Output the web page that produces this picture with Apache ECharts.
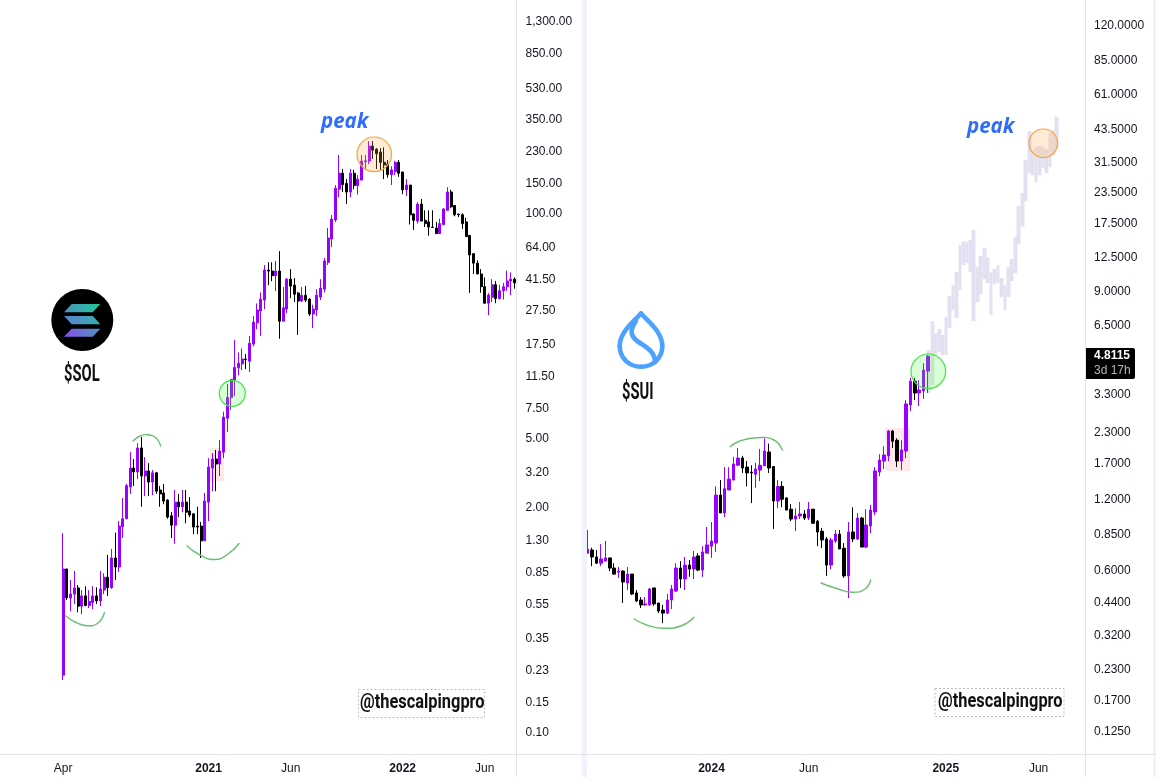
<!DOCTYPE html>
<html>
<head>
<meta charset="utf-8">
<title>SOL vs SUI</title>
<style>
  html, body { margin: 0; background: #fff; }
  #chart-1 { width: 1156px; height: 777px; }
</style>
<script src="https://cdn.jsdelivr.net/npm/echarts@6/dist/echarts.min.js"></script>
</head>
<body>
<div id="chart-1"></div>
<script>
// SOL weekly candles
const solOpen = [
  .216,.887,.603,.635,.689,.541,.62,.546,.567,.62,
  .58,.67,.795,.692,1.027,.911,1.56,1.73,2.64,3.4,
  3.23,4.44,3.06,3.27,2.82,3.19,2.54,2.44,2.22,1.8,
  1.59,2.16,2.03,2.16,1.92,1.85,1.57,1.57,1.29,2.16,
  3.4,3.83,3.59,4.2,6.6,8.7,10.97,12.9,13.6,14.5,
  14.1,17.7,23.5,27.5,31.8,47.4,46.8,44,46.8,24,
  28.2,42,38.8,34.9,31.4,33.9,32.2,26.4,27.9,33.1,
  36.8,52.6,71.7,92.3,139,172,150,134,172,146,
  157,201,202,247,237,228,199,194,169,176,
  199,175,138,147,100,91,114,92,90,84,
  83,77,87,105,134,112,100,99,90,75,
  59,52,45,38,30.5,33,39,32.5,36,38,
  41,42
];
const solClose = [
  .887,.605,.635,.689,.541,.62,.546,.575,.62,.58,
  .68,.795,.692,1.027,.911,1.57,1.73,2.69,3.4,3.23,
  4.44,3.06,3.27,2.82,3.19,2.5,2.41,2.19,1.77,1.59,
  2.16,2.03,2.16,1.89,1.82,1.55,1.55,1.29,2.19,3.45,
  3.83,3.59,4.26,6.7,8.7,11.07,12.98,13.7,14.5,14.4,
  17.9,23.7,27.9,32.2,47.4,46.8,44,46.8,24,28.7,
  42,38.3,34.4,31.4,33.9,31.8,26.4,28.2,33.9,37.3,
  53.5,72.6,93.5,141,172,148,134,172,146,159,
  202,203,247,234,223,199,192,169,180,199,
  172,138,147,99,92,114,91,88,84,83.5,
  77,88,107,134,110,99,99,88,74,58,
  52,45,38,30.5,34,39,32.5,36,38,41,
  42,40
];
const solLow = [
  .2025,.587,.505,.557,.498,.486,.541,.528,.52,.557,
  .541,.635,.62,.68,.766,.853,1.34,1.73,2.41,2.68,
  2.94,2.03,2.34,2.34,2.37,2.41,2.03,2.1,1.73,1.34,
  1.24,1.77,1.89,1.63,1.77,1.41,1.41,1.027,1.29,1.68,
  2.5,2.5,3.06,3.88,5.5,7.4,8.85,11.7,12.53,12.7,
  12.2,17.2,21.6,19.7,28.2,38.8,40.9,35.8,19,24,
  26.8,32.6,31,20,31,31,25.7,21.9,25.7,31.8,
  35.2,50.7,64.3,90,125,134,114,125,139,129.5,
  157,180,194,208,182,180,159,162,147,168,
  164,130,127,87,81,88,91,84,75,83,
  77,77,86,105,108,97,96,82,74,35,
  45,45,35,30.5,26,31,30.5,32,32,36,
  34,37
];
const solHigh = [
  1.43,.887,.766,.863,.716,.67,.705,.67,.705,.695,
  .863,.838,1.07,1.157,1.44,1.68,2.28,2.75,4.2,3.83,
  4.74,5.15,3.93,3.63,3.31,3.23,2.68,2.75,2.25,1.89,
  2.54,2.41,2.54,2.54,2.31,1.85,2.03,1.66,2.44,3.88,
  4.15,4.32,4.94,7.2,10.4,11.07,18.7,15.85,16.7,15.5,
  19.7,25.7,30.4,35.2,50.7,52.6,52.6,53.5,61,37.8,
  42.6,48,42.6,35.4,37.8,38.3,32.6,29.9,36.8,42,
  55.7,83,98.7,147,219,182,159,182,180,168,
  219,219,264,264,240,240,243,205,189,203,
  205,175,159,147,101,117,122,105,105,105,
  90,94,108,143,138,112,100,101,95,76,
  59,54,48,43,35,42,41,39,40,47,
  46,43
];

// SUI weekly candles
const suiOpen = [
  .71,.733,.685,.645,.658,.679,.615,.591,.597,.532,
  .58,.483,.451,.43,.43,.507,.438,.409,.397,.451,
  .492,.615,.553,.633,.609,.692,.603,.711,.761,.784,
  1.25,1.05,1.313,1.446,1.67,1.79,1.64,1.56,1.53,1.594,
  1.66,1.9,1.65,1.18,1.36,1.215,1.09,.99,1.02,1.04,
  1.0,1.09,.97,.88,.816,.633,.8,.856,.746,.57,
  .873,.816,1.0,.754,.925,1.06,1.563,1.74,1.83,2.33,
  2.13,1.74,1.917,3.0,3.78,3.37,3.44,4.17
];
const suiClose = [
  .739,.685,.645,.672,.679,.615,.58,.597,.537,.58,
  .478,.447,.43,.434,.502,.434,.405,.397,.451,.502,
  .615,.553,.633,.609,.685,.603,.719,.77,.8,1.25,
  1.05,1.33,1.46,1.69,1.79,1.625,1.55,1.55,1.61,1.67,
  1.917,1.625,1.18,1.36,1.2,1.08,.99,1.02,1.04,1.0,
  1.09,.95,.873,.808,.633,.808,.856,.74,.57,.873,
  .816,1.0,.754,.934,1.08,1.58,1.757,1.845,2.33,2.11,
  1.74,1.936,3.03,3.78,3.37,3.47,4.21,4.8115
];
const suiLow = [
  .71,.626,.64,.627,.658,.597,.575,.559,.438,.497,
  .473,.442,.417,.426,.426,.426,.397,.36,.393,.413,
  .487,.507,.497,.565,.553,.597,.565,.711,.679,.719,
  1.05,1.01,1.313,1.446,1.67,1.55,1.36,1.156,1.34,1.43,
  1.66,1.55,.9,1.1,1.11,1.08,.97,.88,.99,.98,
  .98,.95,.761,.746,.57,.609,.784,.74,.559,.459,
  .792,.808,.754,.746,.864,1.03,1.5,1.61,1.74,1.975,
  1.64,1.594,1.79,2.83,3.146,2.97,3.18,3.37
];
const suiHigh = [
  .89,.75,.733,.776,.8,.679,.645,.621,.603,.621,
  .58,.497,.464,.464,.507,.507,.438,.43,.478,.522,
  .645,.658,.685,.665,.726,.711,.761,.917,.962,1.36,
  1.446,1.64,1.64,1.81,1.975,1.83,1.74,1.67,1.71,1.955,
  2.17,2.06,1.65,1.446,1.43,1.225,1.145,1.1,1.168,1.08,
  1.168,1.09,.98,.908,.832,.824,.89,.89,.784,.962,
  1.11,1.05,1.01,1.09,1.135,1.64,1.86,2.01,2.35,2.35,
  2.17,2.13,3.146,3.9,3.9,3.82,4.5,4.87
];

// the pale projected bars on the SUI side (no visible wicks)
const ghostTop = [
  5.11,6.77,6.03,6.27,5.92,7.06,8.62,9.61,10.9,14.2,
  14.7,14.6,14.88,16.4,11.45,12.75,13.8,12.6,10.9,11.25,
  11.67,10.3,9.61,11.45,12.4,15.3,20.7,23.5,32.4,42.9,
  35.7,36.8,37.2,36.8,36,42,43.3,49.4
];
const ghostBottom = [
  3.37,3.64,4.87,5.01,4.87,4.87,6.33,7.54,7,9.16,
  11.67,11.9,10.9,6.77,8.15,8.8,10.2,9.8,7.18,9.7,
  9.8,8.56,7.54,8.56,10,10.8,14.3,17,21.7,28.5,
  27.9,26.1,27.9,30,28.5,30.3,34,36.4
];

const solTicks = [1300,850,530,350,230,150,100,64,41.5,27.5,17.5,11.5,7.5,5,3.2,2,1.3,.85,.55,.35,.23,.15,.1];
const suiTicks = [120,85,61,43.5,31.5,23.5,17.5,12.5,9,6.5,3.3,2.3,1.7,1.2,.85,.6,.44,.32,.23,.17,.125];

const solMonths = ['Apr','2021','Jun','2022','Jun'];
const solMonthBars = [16,55,77,107,129];
const suiMonths = ['2024','Jun','2025','Jun'];
const suiMonthBars = [28,50,81,102];

const PURPLE = '#9900ff', BLACK = '#000000', GHOST = '#e5e0f1', LINE = '#e0e3eb', TEXT = '#131722';
const EMPTY = ['-','-','-','-'];

function categories(n, bars, names) {
  const out = new Array(n).fill('');
  bars.forEach((b, i) => { out[b] = names[i]; });
  return out;
}
function candles(pad, o, c, l, h) {
  return new Array(pad).fill(EMPTY).concat(o.map((v, i) => [v, c[i], l[i], h[i]]));
}
function xAxis(gridIndex, data, hidden) {
  return {
    type: 'category', gridIndex, data, show: !hidden,
    axisLine: { show: false }, axisTick: { show: false }, splitLine: { show: false },
    axisLabel: {
      margin: 9, fontFamily: 'Liberation Sans', fontSize: 12, color: TEXT,
      interval: (i, v) => v !== '',
      formatter: v => /^\d/.test(v) ? '{b|' + v + '}' : v,
      rich: { b: { fontFamily: 'Liberation Sans', fontSize: 12, fontWeight: 'bold', color: TEXT } }
    }
  };
}
function yAxis(gridIndex, min, max, ticks, digits, hidden) {
  return {
    type: 'log', logBase: 10, gridIndex, min, max, position: 'right', show: !hidden,
    axisLine: { show: false }, axisTick: { show: false }, splitLine: { show: false }, minorTick: { show: false },
    axisLabel: {
      customValues: ticks, margin: 9, align: 'left', hideOverlap: false,
      fontFamily: 'Liberation Sans', fontSize: 12, color: TEXT,
      formatter: v => Number(v).toLocaleString('en-US', { minimumFractionDigits: digits, maximumFractionDigits: digits })
    }
  };
}
function candleSeries(idx, data, barWidth, up, down, edge) {
  return {
    type: 'candlestick', xAxisIndex: idx, yAxisIndex: idx, data, barWidth,
    itemStyle: { color: up, color0: down, borderColor: up, borderColor0: down, borderWidth: edge }
  };
}
// hand drawn bits on the picture
function stroke(points, color, width) {
  return { type: 'polyline', z: 5, shape: { points, smooth: 0.5 }, style: { stroke: color, lineWidth: width, fill: null, lineCap: 'round' } };
}
function bezier(x1, y1, cpx1, cpy1, cpx2, cpy2, x2, y2, color, width) {
  return { type: 'bezierCurve', z: 5, shape: { x1, y1, cpx1, cpy1, cpx2, cpy2, x2, y2 }, style: { stroke: color, lineWidth: width, fill: null, lineCap: 'round' } };
}
function ring(cx, cy, r, fill, edge) {
  return { type: 'circle', z: 6, shape: { cx, cy, r }, style: { fill, stroke: edge, lineWidth: 1.2 } };
}
function label(text, x, y, font, fill, scaleX, z) {
  return { type: 'text', z: z || 7, x, y, scaleX: scaleX || 1, style: { text, x: 0, y: 0, font, fill, textAlign: 'left', textVerticalAlign: 'middle' } };
}
function box(x, y, width, height, fill, z) {
  return { type: 'rect', z: z || 0, shape: { x, y, width, height }, style: { fill } };
}
function blade(points, c0, c1) {
  return { type: 'polygon', z: 6, shape: { points }, style: { fill: new echarts.graphic.LinearGradient(0, 1, 1, 0, [{ offset: 0, color: c0 }, { offset: 1, color: c1 }]) } };
}

const curveColor = '#6cbf72';
const drop = '#4da2ff';
const graphics = [
  // panel frame
  box(581.7, 0, 5.3, 777, '#f0f3fa', 8),
  box(1153, 0, 3, 777, '#f0f3fa', 8),
  box(516, 0, 1, 777, LINE, 8),
  box(1085, 0, 1, 777, LINE, 8),
  box(0, 754, 1156, 1, LINE, 8),
  // pink boxes behind the candles
  box(210, 448, 14, 33, '#fde9e7', 0),
  box(885, 428, 25, 43, '#fde9e7', 0),
  // swing curves
  stroke([[66,616],[75,622],[87,625.7],[98,623],[104.5,612.5]], curveColor, 1.4),
  stroke([[133,441],[140,436],[148,434.7],[156,438],[160.7,446]], curveColor, 1.4),
  stroke([[187,546],[200,555],[215,559.5],[228,554],[239,543.5]], curveColor, 1.4),
  stroke([[634,619],[648,625.5],[665,628.3],[682,625.5],[694,617.3]], curveColor, 1.4),
  stroke([[730,446.7],[740,441],[757,437.7],[774,440],[782.3,450]], curveColor, 1.4),
  stroke([[821,583],[838,589],[853,592.3],[865,589],[870.7,580]], curveColor, 1.4),
  // circles
  ring(232.3, 393.3, 13, 'rgba(60,255,60,0.2)', '#3ee83e'),
  ring(374.3, 154.3, 17.3, 'rgba(255,170,70,0.22)', '#f5a53f'),
  ring(928.3, 371.3, 17.3, 'rgba(60,255,60,0.2)', '#3ee83e'),
  ring(1043.3, 143.3, 14.3, 'rgba(255,170,70,0.22)', '#f5a53f'),
  label('peak', 321, 122, 'italic 700 20.5px "Open Sans"', '#2e6bff'),
  label('peak', 967, 127, 'italic 700 20.5px "Open Sans"', '#2e6bff'),
  // SOL logo
  { type: 'circle', z: 5, shape: { cx: 82.3, cy: 320, r: 31 }, style: { fill: '#000' } },
  blade([[71.7,304],[100.3,304],[92.7,312.3],[64,312.3]], '#4a8fb8', '#1fc9a0'),
  blade([[64,316],[92.7,316],[100.3,324.3],[71.7,324.3]], '#5f7fd0', '#35b0b0'),
  blade([[71.7,328.7],[100.3,328.7],[92.7,336.7],[64,336.7]], '#8a4fe8', '#4a95c0'),
  label('$SOL', 64, 375, '700 23px Roboto', '#111', 0.64),
  // SUI logo
  bezier(641,313.5, 648,321, 662.3,332, 662.3,346, drop, 4.6),
  bezier(662.3,346, 662.3,358, 653,366.7, 641,366.7, drop, 4.6),
  bezier(641,366.7, 629,366.7, 619.7,358, 619.7,346, drop, 4.6),
  bezier(619.7,346, 619.7,332, 634,321, 641,313.5, drop, 4.6),
  bezier(636,321, 628,332, 632,338, 640,343, drop, 4.6),
  bezier(640,343, 650,349, 655,354, 655,362, drop, 4.6),
  label('$SUI', 622, 393, '700 23px Roboto', '#111', 0.64),
  // watermark
  { type: 'rect', z: 5, shape: { x: 358.5, y: 689.5, width: 126, height: 28 }, style: { fill: null, stroke: '#bbb', lineWidth: 1, lineDash: [2, 2] } },
  { type: 'rect', z: 5, shape: { x: 935, y: 688.5, width: 129, height: 28 }, style: { fill: null, stroke: '#bbb', lineWidth: 1, lineDash: [2, 2] } },
  label('@thescalpingpro', 360, 703, '700 21px Roboto', '#111', 0.78),
  label('@thescalpingpro', 938, 702, '700 21px Roboto', '#111', 0.78),
  // last price tag
  { type: 'rect', z: 9, shape: { x: 1086, y: 348, width: 49, height: 31, r: [0, 2, 2, 0] }, style: { fill: '#000' } },
  label('4.8115', 1094, 356, 'bold 12px "Liberation Sans"', '#fff', 1, 10),
  label('3d 17h', 1094, 371, '12px "Liberation Sans"', '#b2b5be', 1, 10)
];

const TheChart = echarts.init(document.getElementById('chart-1'));
TheChart.setOption({
  animation: false,
  backgroundColor: '#ffffff',
  grid: [
    { left: 1.5, top: 0, width: 515, height: 754 },
    { left: 585.5, top: 0, width: 499.5, height: 754 },
    { left: 588, top: 0, width: 498.24, height: 754 }
  ],
  xAxis: [
    xAxis(0, categories(138, solMonthBars, solMonths)),
    xAxis(1, categories(113, suiMonthBars, suiMonths)),
    xAxis(2, new Array(144).fill(''), true)
  ],
  yAxis: [
    yAxis(0, 0.0756, 1726, solTicks, 2),
    yAxis(1, 0.101, 153.4, suiTicks, 4),
    yAxis(2, 0.101, 153.4, suiTicks, 4, true)
  ],
  series: [
    candleSeries(0, candles(16, solOpen, solClose, solLow, solHigh), 2.5, PURPLE, BLACK, 1),
    candleSeries(2, candles(98, ghostBottom, ghostTop, ghostBottom, ghostTop), 4.2, GHOST, GHOST, 0),
    candleSeries(1, candles(0, suiOpen, suiClose, suiLow, suiHigh), 3, PURPLE, BLACK, 1)
  ],
  graphic: { elements: graphics }
});
</script>
</body>
</html>
